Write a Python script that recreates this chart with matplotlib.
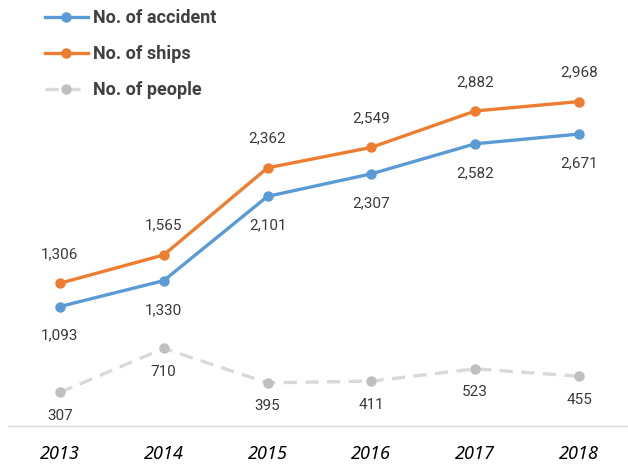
import matplotlib.pyplot as plt

years = ["2013", "2014", "2015", "2016", "2017", "2018"]
accident = [1093, 1330, 2101, 2307, 2582, 2671]
ships = [1306, 1565, 2362, 2549, 2882, 2968]
people = [307, 710, 395, 411, 523, 455]

plt.rcParams["font.family"] = ["Noto Sans", "DejaVu Sans"]

fig = plt.figure(figsize=(6.28, 4.66), dpi=100)
ax = fig.add_axes([0.0127, 0.0858, 0.992, 0.821])

x = list(range(len(years)))
la, = ax.plot(x, accident, color="#5B9BD5", lw=2.4, marker="o", ms=6.5, label="No. of accident")
ls, = ax.plot(x, ships, color="#ED7D31", lw=2.4, marker="o", ms=6.5, label="No. of ships")
lp, = ax.plot(x, people, color="#D9D9D9", lw=2.4, ls=(0, (4, 2.5)), marker="o", ms=6.5,
              mfc="#BFBFBF", mec="#BFBFBF", label="No. of people")

lab_kw = dict(textcoords="offset points", ha="center", va="center", fontsize=11,
              color="#3A3A3A", family="Roboto")
for i in x:
    ax.annotate(f"{accident[i]:,}", (i, accident[i]), xytext=(0, -21), **lab_kw)
    ax.annotate(f"{ships[i]:,}", (i, ships[i]), xytext=(0, 21), **lab_kw)
    ax.annotate(f"{people[i]}", (i, people[i]), xytext=(0, -17), **lab_kw)

ax.set_xlim(-0.5, 5.5)
ax.set_ylim(0, 3500)
ax.set_xticks(x)
ax.set_xticklabels(years, fontsize=13, fontweight="bold", fontstyle="italic")
ax.tick_params(axis="x", length=0, pad=14)
ax.set_yticks([])
for s in ["top", "right", "left"]:
    ax.spines[s].set_visible(False)
ax.spines["bottom"].set_color("#D9D9D9")
ax.spines["bottom"].set_linewidth(1)

leg = fig.legend(handles=[la, ls, lp], loc="upper left", bbox_to_anchor=(0.045, 1.015),
                 frameon=False, handlelength=2.4, labelspacing=1.0, handletextpad=0.3,
                 prop={"family": "Roboto", "size": 13, "weight": "bold"})
for t in leg.get_texts():
    t.set_color("#404040")

fig.savefig("out.png", dpi=100)
